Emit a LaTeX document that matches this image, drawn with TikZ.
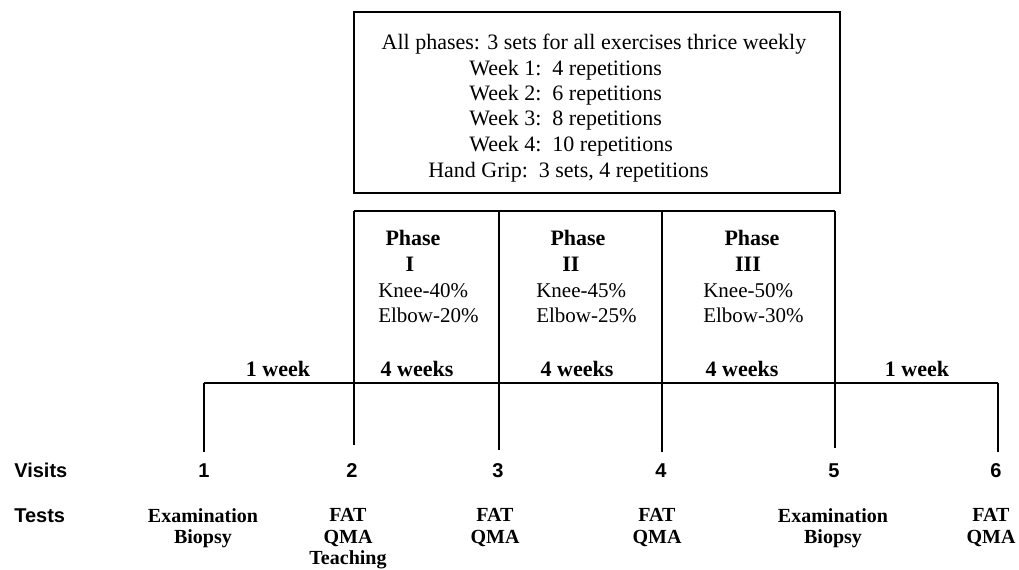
\documentclass[tikz,border=0pt]{standalone}
\usepackage{fontspec}
\setmainfont{Liberation Serif}
\setsansfont{Liberation Sans}

\begin{document}
\begin{tikzpicture}
  [x=0.5pt,y=-0.5pt,line width=1.3pt,
   every node/.style={inner sep=0pt},
   plain/.style={font=\fontsize{10.5}{12}\selectfont,anchor=base west},
   big/.style={font=\fontsize{11}{13}\selectfont,anchor=base west},
   head/.style={font=\fontsize{11}{13}\selectfont\bfseries,anchor=base},
   test/.style={font=\fontsize{10}{10.8}\selectfont\bfseries,align=center,anchor=north},
   visit/.style={font=\sffamily\fontsize{10}{12}\selectfont\bfseries,anchor=base}]
  \useasboundingbox (0,0) rectangle (1019,569);

  % schedule box
  \node[draw,minimum width=243pt,minimum height=90.5pt] (plan) at (597,102.5) {};
  \node[big,anchor=base] (all) at (594,49) {All phases: 3 sets for all exercises thrice weekly};
  \foreach \i/\y/\r in {1/75/4, 2/100/6, 3/125/8, 4/151/10}
    \node[big] (wk\i) at (468,\y) {Week \i:\enspace\r{} repetitions};
  \node[big] (grip) at (427,177) {Hand Grip:\enspace 3 sets, 4 repetitions};

  % timeline points
  \coordinate (t1) at (204,383);
  \coordinate (t2) at (354,383);
  \coordinate (t3) at (499,383);
  \coordinate (t4) at (662,383);
  \coordinate (t5) at (835,383);
  \coordinate (t6) at (998,383);
  \coordinate (b1) at (204,452);
  \coordinate (b2) at (354,445);
  \coordinate (b3) at (499,450);
  \coordinate (b4) at (662,452);
  \coordinate (b5) at (835,448);
  \coordinate (b6) at (998,452);
  \coordinate (p2) at (354,211);
  \coordinate (p3) at (499,211);
  \coordinate (p4) at (662,211);
  \coordinate (p5) at (835,211);

  \draw (t1) -- (t6);
  \draw (p2) -- (p5);
  \foreach \from/\to in {t1/b1, t2/b2, t3/b3, t4/b4, t5/b5, t6/b6, p2/t2, p3/t3, p4/t4, p5/t5}
    \draw (\from) -- (\to);

  % phases
  \foreach \n/\px/\rx/\kx/\wx/\r/\k/\e in {1/413/410/377/417/I/40/20, 2/578/571/535/577/II/45/25, 3/752/748/702/742/III/50/30} {
    \node[head] (ph\n) at (\px,245) {Phase};
    \node[head] (rom\n) at (\rx,271) {\r};
    \node[plain] (knee\n) at (\kx,297) {Knee-\k\%};
    \node[plain] (elb\n) at (\kx,322) {Elbow-\e\%};
    \node[head] (dur\n) at (\wx,376) {4 weeks};
  }
  \node[head] (pre) at (278,376) {1 week};
  \node[head] (post) at (917,376) {1 week};

  % visits and tests
  \node[visit,anchor=base west] (visits) at (13,477) {Visits};
  \node[visit,anchor=base west] (tests) at (13,522) {Tests};
  \foreach \i/\x in {1/204, 2/352, 3/498, 4/661, 5/834, 6/996}
    \node[visit] (v\i) at (\x,477) {\i};
  \node[test] (s1) at (203,507) {Examination\\Biopsy};
  \node[test] (s2) at (348,507) {FAT\\QMA\\Teaching};
  \node[test] (s3) at (495,507) {FAT\\QMA};
  \node[test] (s4) at (657,507) {FAT\\QMA};
  \node[test] (s5) at (833,507) {Examination\\Biopsy};
  \node[test] (s6) at (991,507) {FAT\\QMA};

\end{tikzpicture}
\end{document}
